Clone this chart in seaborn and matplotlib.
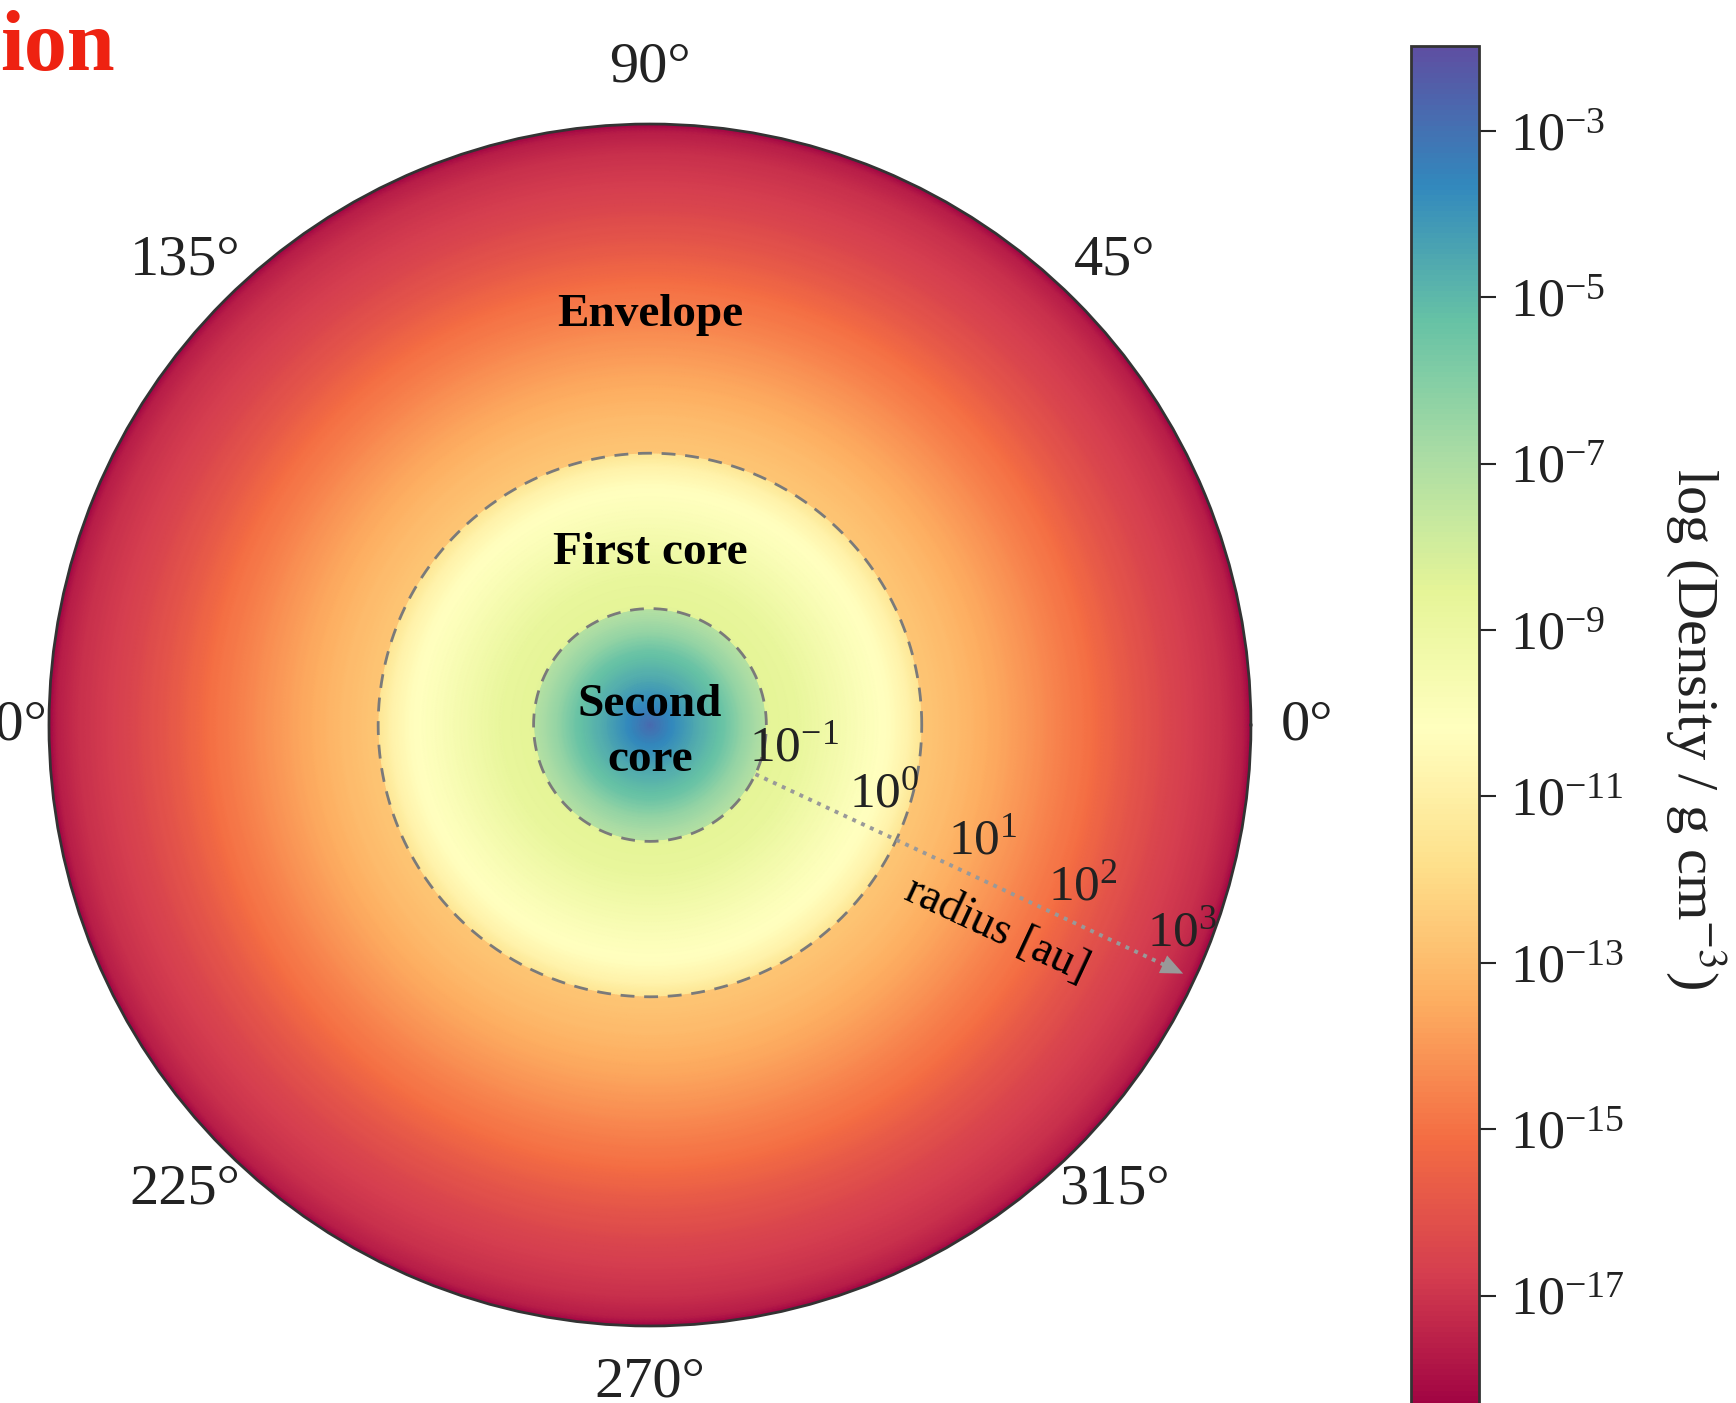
import numpy as np
import matplotlib
matplotlib.use('Agg')
import matplotlib.pyplot as plt
import seaborn as sns
from matplotlib.colors import LogNorm
from matplotlib.ticker import NullLocator, LogFormatterSciNotation

# radial density profile: log10 r [au] -> log10 rho [g cm^-3]
# repeated radii mark the jumps at the core boundaries
log_radius = [-2.0, -1.82, -1.57, -1.33, -1.15, -0.94,
              -0.94, -0.66, -0.36, -0.06, 0.19, 0.37, 0.48,
              0.48, 0.83, 1.28, 1.74, 2.04, 2.35, 2.80, 3.20, 3.41, 3.477]
log_density = [-2.8, -3.6, -4.6, -5.4, -6.4, -7.2,
               -8.5, -8.7, -9.3, -9.9, -10.3, -10.9, -11.5,
               -12.7, -13.1, -13.8, -14.6, -15.1, -15.8, -16.6, -17.1, -17.6, -18.3]

second_core_r = 0.115   # au
first_core_r = 3.0      # au
arrow_end_r = 2300      # au
r_limits = (0.01, 3000)
r_ticks = [0.1, 1, 10, 100, 1000]
cbar_ticks = [1e-3, 1e-5, 1e-7, 1e-9, 1e-11, 1e-13, 1e-15, 1e-17]
density_range = (10**-18.4, 10**-1.98)

sns.set_style('white')
plt.rcParams['font.family'] = ['Liberation Serif', 'DejaVu Serif']
plt.rcParams['mathtext.fontset'] = 'stix'

cmap = sns.color_palette('Spectral', as_cmap=True)
norm = LogNorm(*density_range)

fig = plt.figure(figsize=(17.36, 14.03), dpi=100)
ax = fig.add_axes([0.0282, 0.0549, 0.6924, 0.8567], projection='polar')
ax.set_rscale('log')
ax.set_axisbelow(False)

# fill the disk: shade the profile smoothly in log r between the read-off points
knot_r = np.array(log_radius)
knot_rho = np.array(log_density)
jumps = np.where(np.diff(knot_r) == 0)[0]
segments = np.split(np.arange(len(knot_r)), jumps + 1)
theta = np.linspace(0, 2 * np.pi, 721)
for seg in segments:
    lr = np.linspace(knot_r[seg[0]], knot_r[seg[-1]], 120)
    rho = 10**np.interp(lr, knot_r[seg], knot_rho[seg])
    T, R = np.meshgrid(theta, 10**lr)
    mesh = ax.pcolormesh(T, R, np.repeat(rho[:, None], len(theta), axis=1),
                         shading='gouraud', cmap=cmap, norm=norm, rasterized=True)

ax.set_rlim(*r_limits)
ax.set_rticks(r_ticks)
ax.yaxis.set_major_formatter(LogFormatterSciNotation())
ax.yaxis.set_minor_locator(NullLocator())
ax.set_rlabel_position(-25)
ax.grid(False)
ax.tick_params(axis='y', labelleft=True, left=False, labelsize=37, labelcolor='#222222')
ax.tick_params(axis='x', labelsize=42, pad=30, labelcolor='#222222')
ax.spines['polar'].set_edgecolor('#333333')
ax.spines['polar'].set_linewidth(2)

# core boundaries
ax.plot(theta, np.full_like(theta, second_core_r), ls=(0, (5, 3.5)), color='#7a7a7a', lw=2)
ax.plot(theta, np.full_like(theta, first_core_r), ls=(0, (5, 3.5)), color='#7a7a7a', lw=2)

# radius arrow: dotted shaft plus a solid head
arrow_th = np.deg2rad(-25)
ax.plot([arrow_th, arrow_th], [second_core_r, arrow_end_r * 0.9], ls=(0, (1, 1.5)),
        color='#999999', lw=2.8)
ax.annotate('', xy=(arrow_th, arrow_end_r), xytext=(arrow_th, arrow_end_r * 0.7),
            arrowprops=dict(arrowstyle='-|>,head_length=0.8,head_width=0.35',
                            mutation_scale=20, color='#999999', lw=0,
                            shrinkA=0, shrinkB=0))
ax.text(np.deg2rad(-30.6), 47, 'radius [au]', rotation=-25, rotation_mode='anchor',
        ha='center', va='center', fontsize=33, color='black')

ax.text(np.pi / 2, 54, 'Envelope', ha='center', va='center', fontsize=34,
        fontweight='bold', color='black')
ax.text(np.pi / 2, 0.37, 'First core', ha='center', va='center', fontsize=34,
        fontweight='bold', color='black')
ax.text(0.5, 0.494, 'Second\ncore', transform=ax.transAxes, ha='center', va='center',
        fontsize=34, fontweight='bold', linespacing=1.4, color='black')

# colorbar runs off the bottom edge like the cropped original
cax = fig.add_axes([0.8128, -0.0064, 0.0392, 0.9736])
cbar = fig.colorbar(mesh, cax=cax, ticks=cbar_ticks)
cbar.minorticks_off()
cbar.outline.set_edgecolor('#333333')
cbar.outline.set_linewidth(2)
cbar.ax.tick_params(right=True, length=12, width=1.5, labelsize=39, labelcolor='#222222', pad=10)
cbar.set_label('log (Density / g cm$^{-3}$)', rotation=270, fontsize=42, labelpad=74,
               color='#222222')

fig.text(0.0, 1 - 70 / 1403, 'ion', color='#ee2211', fontsize=62, fontweight='bold',
         ha='left', va='baseline')

fig.savefig('out.png', dpi=100)
